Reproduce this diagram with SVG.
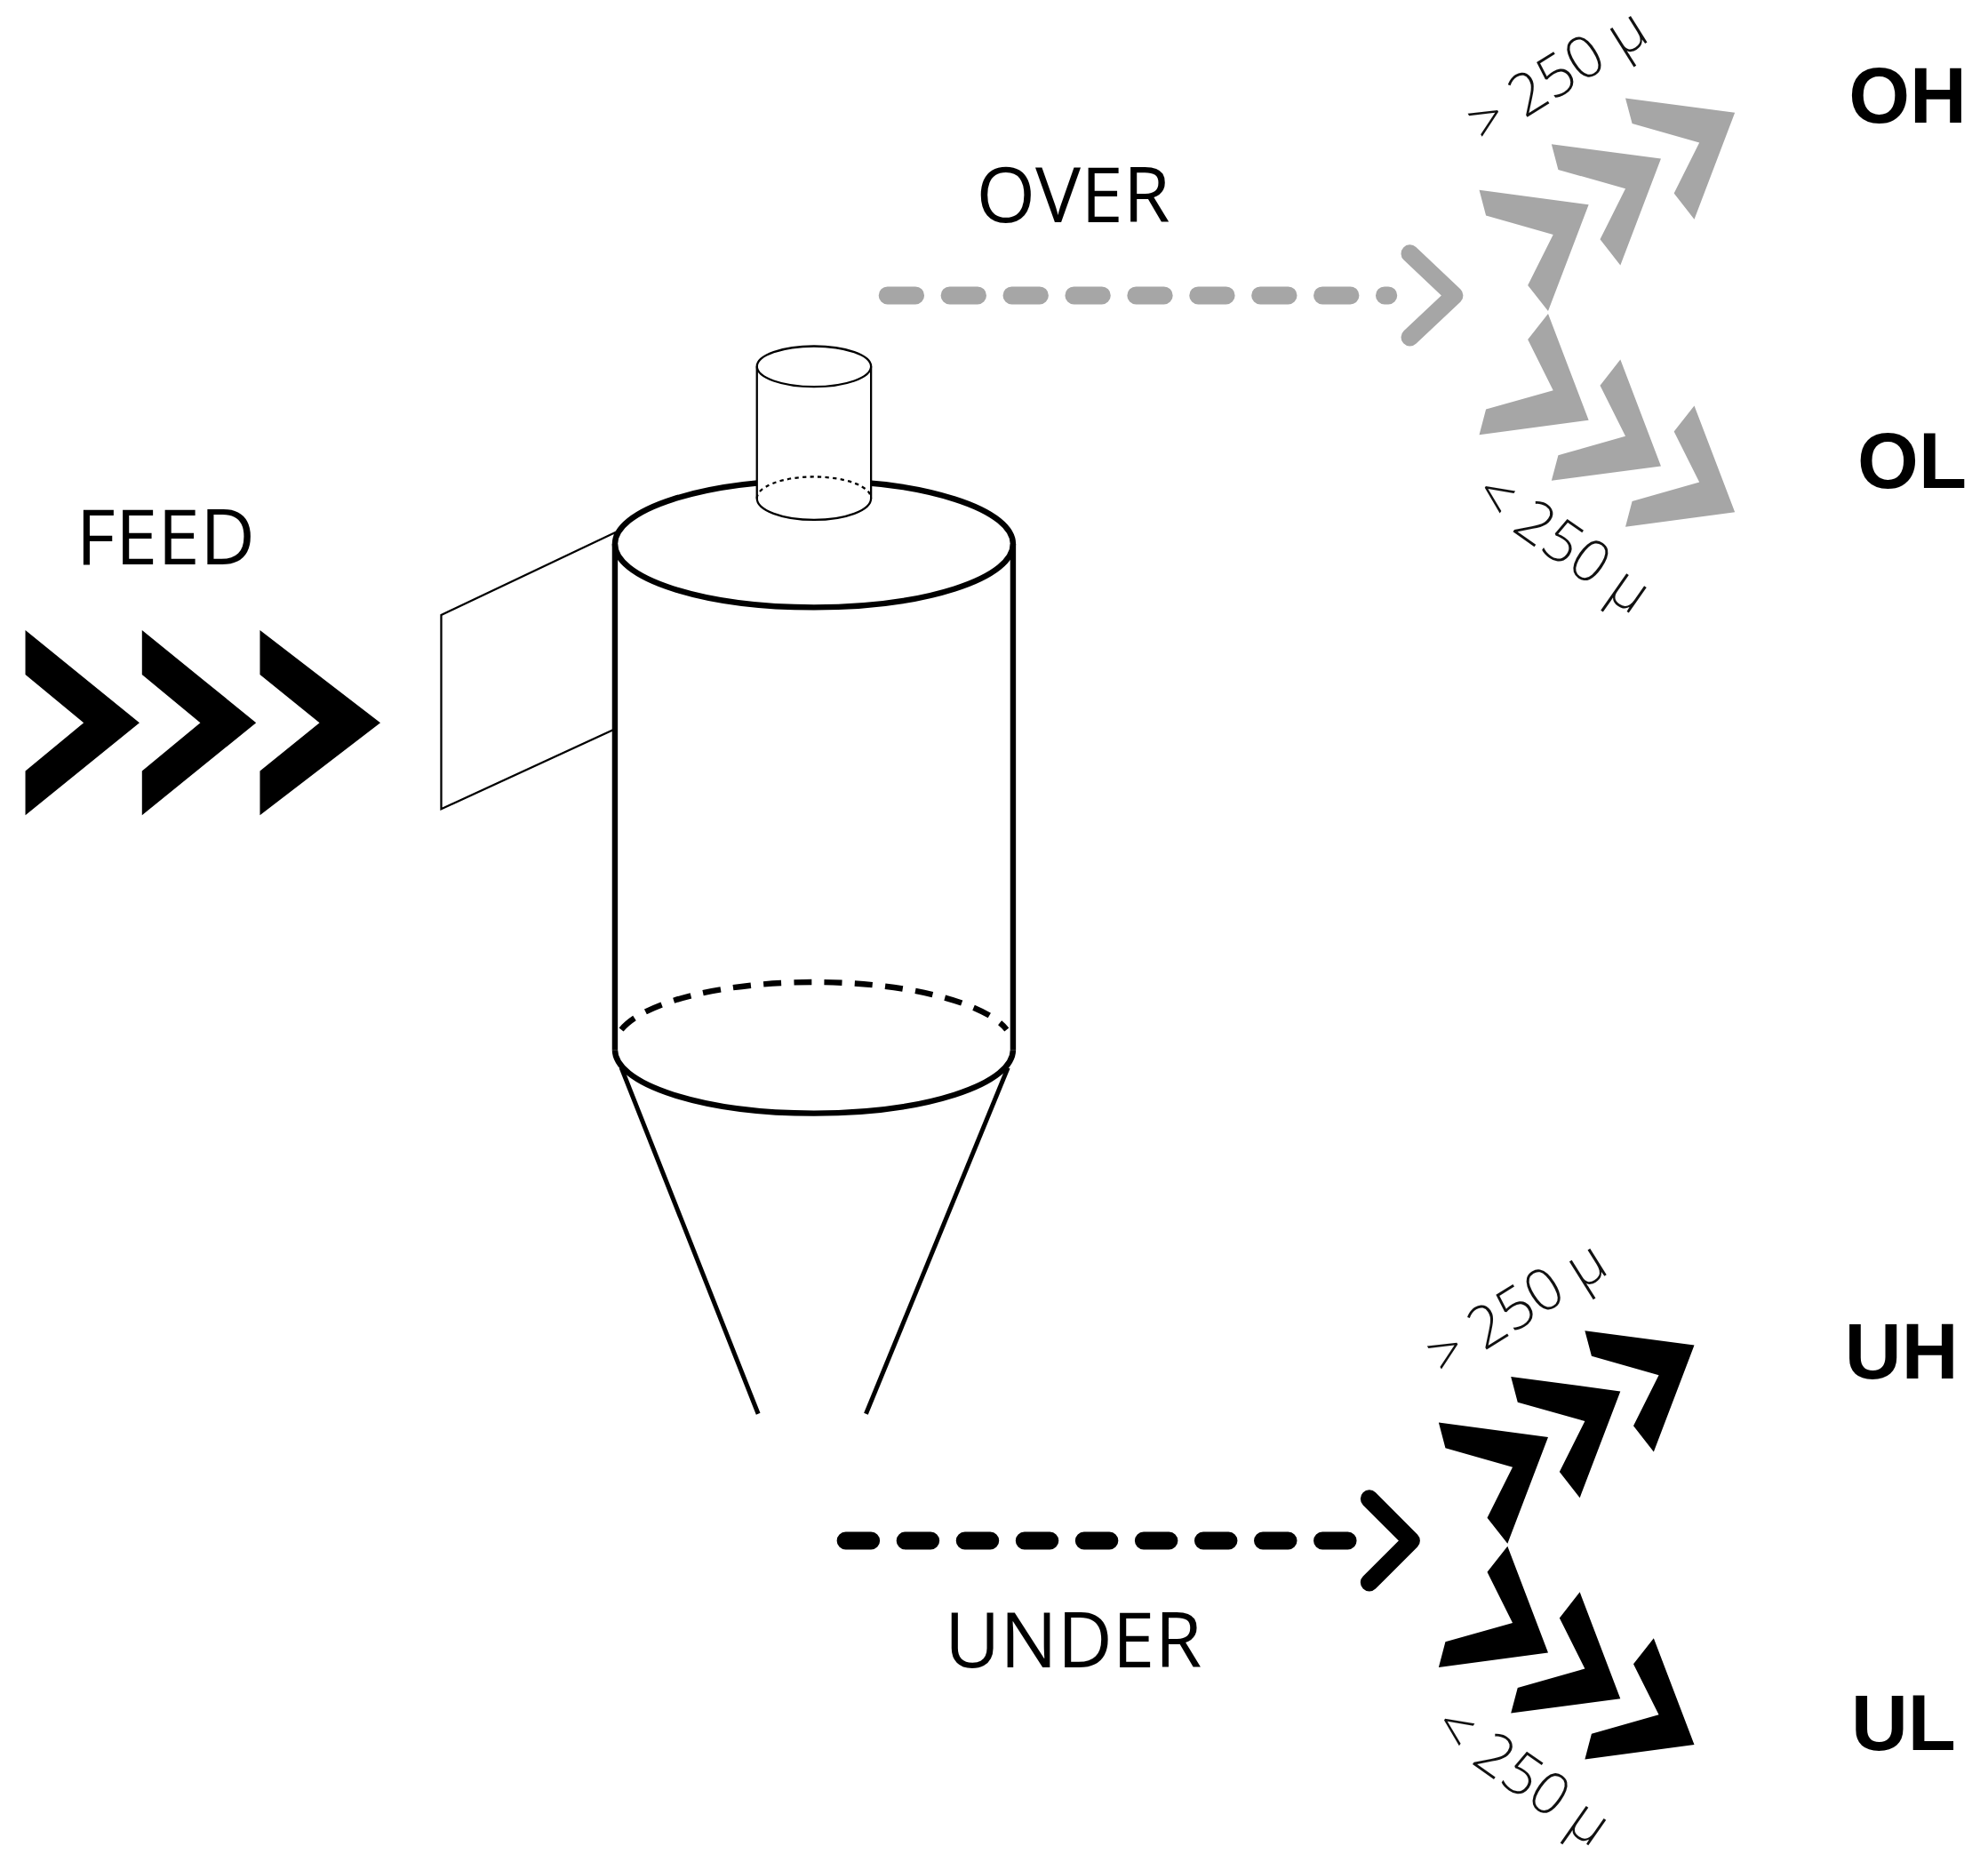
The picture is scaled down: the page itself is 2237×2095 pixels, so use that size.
<svg xmlns="http://www.w3.org/2000/svg" width="2237" height="2095" viewBox="0 0 2237 2095">
<style>
.lbl{font-family:"Open Sans","Liberation Sans",sans-serif;font-size:60px;fill:#000}
.sm{font-family:"Open Sans","Liberation Sans",sans-serif;font-size:46px;font-weight:300;fill:#111}
.bd{font-family:"Liberation Sans",Arial,sans-serif;font-size:62px;font-weight:bold;fill:#000}
.thk{fill:none;stroke:#000;stroke-width:4.5}
.thn{fill:none;stroke:#000;stroke-width:1.6}
</style>
<defs>
<polygon id="chev" points="1166.7,149.9 1253,161.4 1221,245.4 1205,225 1225,185 1172,170"/>
<g id="split">
<use href="#chev"/>
<use href="#chev" transform="translate(57,-36.2)"/>
<use href="#chev" transform="translate(115.3,-72.5)"/>
<g transform="translate(0,492.8) scale(1,-1)">
<use href="#chev"/>
<use href="#chev" transform="translate(57,-36.2)"/>
<use href="#chev" transform="translate(115.3,-72.5)"/>
</g>
<text class="sm" transform="translate(1170,114) rotate(-32)">&gt; 250 μ</text>
<text class="sm" transform="translate(1160,396) rotate(35)">&lt; 250 μ</text>
</g>
</defs>
<g transform="scale(1.4267)">
<g id="feed">
<text class="lbl" x="60" y="445">FEED</text>
<polygon points="20,497 110,570 20,643 20,608 66,570 20,532"/>
<polygon points="112,497 202,570 112,643 112,608 158,570 112,532"/>
<polygon points="205,497 300,570 205,643 205,608 252,570 205,532"/>
</g>
<g id="cyclone">
<polygon class="thn" points="485,420 348,485 348,638 485,575" fill="#fff"/>
<ellipse class="thk" cx="642" cy="429" rx="157" ry="50"/>
<line class="thk" x1="485" y1="429" x2="485" y2="828"/>
<line class="thk" x1="799" y1="429" x2="799" y2="828"/>
<path class="thk" d="M485,828 A157,50 0 0 0 799,828"/>
<path class="thk" stroke-dasharray="14,10" d="M490,812 A157,50 0 0 1 794,812"/>
<line stroke="#000" stroke-width="3.5" x1="490" y1="842" x2="598" y2="1115"/>
<line stroke="#000" stroke-width="3.5" x1="795" y1="842" x2="683" y2="1115"/>
<rect x="597" y="289" width="90" height="104" fill="#fff"/>
<path class="thn" d="M597,289 L597,393 A45,17 0 0 0 687,393 L687,289"/>
<path class="thn" stroke-dasharray="3,3" d="M597,393 A45,17 0 0 1 687,393"/>
<ellipse class="thn" cx="642" cy="289" rx="45" ry="16" fill="#fff"/>
</g>
<g id="connectors">
<line x1="700" y1="233" x2="1095" y2="233" stroke="#a6a6a6" stroke-width="14" stroke-linecap="round" stroke-dasharray="22,27"/>
<polyline points="1112,200 1147,233 1112,266" fill="none" stroke="#a6a6a6" stroke-width="14" stroke-linecap="round" stroke-linejoin="round"/>
<line x1="667" y1="1215" x2="1070" y2="1215" stroke="#000" stroke-width="14" stroke-linecap="round" stroke-dasharray="20,27"/>
<polyline points="1080,1182 1113,1215 1080,1248" fill="none" stroke="#000" stroke-width="14" stroke-linecap="round" stroke-linejoin="round"/>
</g>
<g id="over">
<text class="lbl" x="770" y="175">OVER</text>
<g fill="#a6a6a6"><use href="#split"/></g>
<text class="bd" x="1458" y="97">OH</text>
<text class="bd" x="1465" y="385">OL</text>
</g>
<g id="under">
<text class="lbl" x="745" y="1315">UNDER</text>
<g fill="#000" transform="translate(-32,972)"><use href="#split"/></g>
<text class="bd" x="1455" y="1087">UH</text>
<text class="bd" x="1460" y="1380">UL</text>
</g>
</g>
</svg>
